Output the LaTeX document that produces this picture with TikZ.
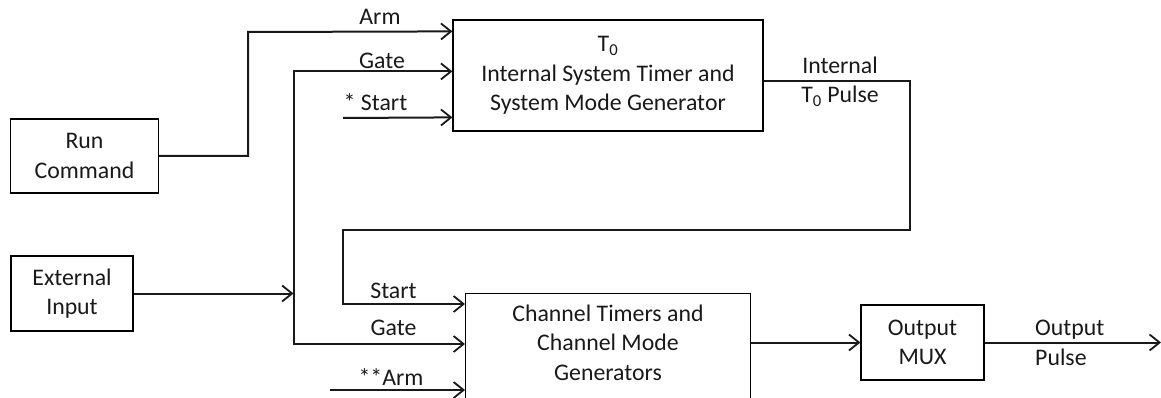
\documentclass[tikz,border=0pt]{standalone}
\usepackage{fontspec}
\setmainfont{Carlito}
\usetikzlibrary{arrows.meta,calc}
\begin{document}
\begin{tikzpicture}[x=1pt,y=-1pt,
  every node/.style={font=\fontsize{23.8}{29.5}\selectfont, text=black!90, inner sep=0pt},
  box/.style={draw=black, line width=1.2pt, align=center},
  conn/.style={line width=2pt, draw=black!90},
  tip/.style={-{Straight Barb[length=10pt,width=16pt,line width=1.8pt]}},
  bothtip/.style={{Straight Barb[length=10pt,width=16pt,line width=1.8pt]}-{Straight Barb[length=10pt,width=16pt,line width=1.8pt]}},
  lbl/.style={anchor=base}]
\useasboundingbox (0,0) rectangle (1161,398);

% boxes
\node[box, minimum width=148pt, minimum height=74pt] (run) at (84.5,156) {Run\\Command};
\node[box, minimum width=122pt, minimum height=75pt] (ext) at (72,293.5) {External\\Input};
\node[box, minimum width=310pt, minimum height=111pt] (t0) at (608,75.5) {T\textsubscript{0}\\Internal System Timer and\\System Mode Generator};
\node[box, minimum width=285pt, minimum height=125pt, anchor=north west] (ch) at (465,293) {};
\node[lbl, align=center] (chtext) at (608,380) {Channel Timers and\\Channel Mode\\Generators};
\node[box, minimum width=123pt, minimum height=75pt] (mux) at (922.5,342.5) {Output\\MUX};

% named points
\coordinate (armjog) at (248,32);
\coordinate (t0arm) at ($(t0.north west)+(0,12)$);
\coordinate (t0gate) at ($(t0.north west)+(0,52)$);
\coordinate (t0start) at ($(t0.north west)+(0,98)$);
\coordinate (sstart) at (343,118);
\coordinate (gx) at (293.5,344);
\coordinate (chstart) at ($(ch.north west)+(0,11)$);
\coordinate (chgate) at ($(ch.north west)+(0,51)$);
\coordinate (charm) at ($(ch.north west)+(0,97)$);
\coordinate (sarm) at (330,390);
\coordinate (t0out) at ($(t0.north east)+(0,62)$);
\coordinate (pr) at (910,230);
\coordinate (pl) at (343,230);
\coordinate (outend) at (1161,342.5);

% connectors
\draw[conn,tip] (run.east) -| (armjog) -- (t0arm);
\draw[conn,bothtip] (t0gate) -| (gx) -- (chgate);
\draw[conn,tip] (ext.east) -- (ext.east -| gx);
\draw[conn,tip] (sstart) -- (t0start);
\draw[conn,tip] (t0out) -| (pr) -- (pl) |- (chstart);
\draw[conn,tip] (sarm) -- (charm);
\draw[conn,tip] (ch.east |- mux.west) -- (mux.west);
\draw[conn,tip] (mux.east) -- (outend);

% labels
\node[lbl] (larm) at (380,25) {Arm};
\node[lbl] (lgate) at (382,69) {Gate};
\node[lbl] (lstart) at (375.5,111) {* Start};
\node[lbl] (lstart2) at (393.5,298) {Start};
\node[lbl] (lgate2) at (393.5,335) {Gate};
\node[lbl] (larm2) at (391,385) {**Arm};
\node[lbl, align=center] (lint) at (840,103) {Internal\\T\textsubscript{0} Pulse};
\node[anchor=base west, align=left] (lout) at (1035,365) {Output\\Pulse};
\end{tikzpicture}
\end{document}
